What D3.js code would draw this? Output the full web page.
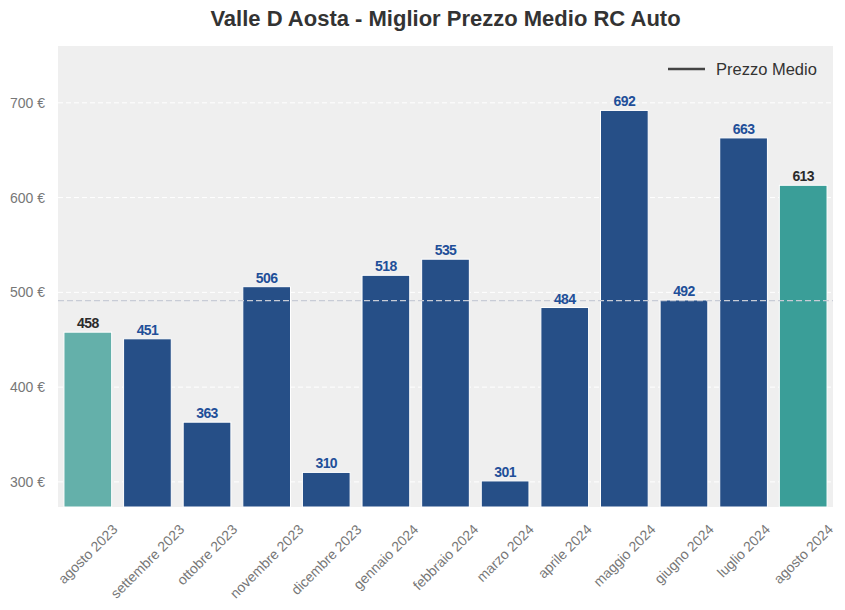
<!DOCTYPE html>
<html>
<head>
<meta charset="utf-8">
<script src="https://cdn.jsdelivr.net/npm/d3@7"></script>
<style>
  body { margin: 0; background: #fff; font-family: "Liberation Sans", Arial, sans-serif; }
</style>
</head>
<body>
<script>
// data
var months = ["agosto 2023", "settembre 2023", "ottobre 2023", "novembre 2023", "dicembre 2023",
  "gennaio 2024", "febbraio 2024", "marzo 2024", "aprile 2024", "maggio 2024",
  "giugno 2024", "luglio 2024", "agosto 2024"];
var prices = [458, 451, 363, 506, 310, 518, 535, 301, 484, 692, 492, 663, 613];
var yTicks = [300, 400, 500, 600, 700];
var yDomain = [273.5, 760];

var w = 845, h = 610;
var margin = {top: 46, right: 12, bottom: 103, left: 58};

var svg = d3.select("body").append("svg")
  .attr("width", w)
  .attr("height", h);

var x = d3.scaleBand()
  .domain(months)
  .range([margin.left, w - margin.right])
  .paddingInner(0.2)
  .paddingOuter(0.1);

var y = d3.scaleLinear()
  .domain(yDomain)
  .range([h - margin.bottom, margin.top]);

// plot background
svg.append("rect")
  .attr("x", margin.left)
  .attr("y", margin.top)
  .attr("width", w - margin.left - margin.right)
  .attr("height", h - margin.top - margin.bottom)
  .attr("fill", "#efefef");

// grid lines
svg.selectAll(".grid")
  .data(yTicks)
  .enter()
  .append("line")
  .attr("x1", margin.left)
  .attr("x2", w - margin.right)
  .attr("y1", function(d) { return y(d); })
  .attr("y2", function(d) { return y(d); })
  .attr("stroke", "#fff")
  .attr("stroke-width", 1)
  .attr("stroke-dasharray", "5,3");

// y axis labels
svg.selectAll(".ylab")
  .data(yTicks)
  .enter()
  .append("text")
  .attr("x", margin.left - 13)
  .attr("y", function(d) { return y(d); })
  .attr("dy", "0.35em")
  .attr("text-anchor", "end")
  .attr("fill", "#777")
  .style("font-size", "14px")
  .text(function(d) { return d + " €"; });

// bar colours: first and last month teal, others blue
function barColor(d, i) {
  if (i === 0) return "#64b0aa";
  if (i === prices.length - 1) return "#3a9e98";
  return "#264f87";
}

svg.selectAll(".bar")
  .data(prices)
  .enter()
  .append("rect")
  .attr("x", function(d, i) { return x(months[i]); })
  .attr("y", function(d) { return y(d); })
  .attr("width", x.bandwidth())
  .attr("height", function(d) { return y(yDomain[0]) - y(d); })
  .attr("fill", barColor)
  .attr("stroke", "#fff")
  .attr("stroke-width", 1);

// average line
var avg = d3.mean(prices);
svg.append("line")
  .attr("x1", margin.left)
  .attr("x2", w - margin.right)
  .attr("y1", y(avg))
  .attr("y2", y(avg))
  .attr("stroke", "#c8ccd6")
  .attr("stroke-width", 1.2)
  .attr("stroke-dasharray", "6,3");

// value labels
svg.selectAll(".val")
  .data(prices)
  .enter()
  .append("text")
  .attr("x", function(d, i) { return x(months[i]) + x.bandwidth() / 2; })
  .attr("y", function(d) { return y(d) - 4; })
  .attr("text-anchor", "middle")
  .attr("fill", function(d, i) {
    return (i === 0 || i === prices.length - 1) ? "#2b2b2b" : "#1f4f99";
  })
  .style("font-size", "14px")
  .style("font-weight", "bold")
  .style("letter-spacing", "-0.6px")
  .text(function(d) { return d; });

// x axis labels, rotated 45deg around their centre, top edge aligned under the axis
svg.selectAll(".xlab")
  .data(months)
  .enter()
  .append("text")
  .attr("text-anchor", "middle")
  .attr("dy", "0.35em")
  .attr("fill", "#777")
  .style("font-size", "14px")
  .text(function(d) { return d; })
  .attr("transform", function(d) {
    var len = this.getComputedTextLength();
    var cx = x(d) + x.bandwidth() / 2;
    var cy = h - margin.bottom + 16 + (len + 11) * 0.3536;
    return "translate(" + cx + "," + cy + ") rotate(-45)";
  });

// title
svg.append("text")
  .attr("x", (margin.left + w - margin.right) / 2)
  .attr("y", 26)
  .attr("text-anchor", "middle")
  .attr("fill", "#333")
  .style("font-size", "22px")
  .style("font-weight", "bold")
  .text("Valle D Aosta - Miglior Prezzo Medio RC Auto");

// legend
svg.append("line")
  .attr("x1", 668)
  .attr("x2", 705)
  .attr("y1", 69)
  .attr("y2", 69)
  .attr("stroke", "#444")
  .attr("stroke-width", 2.5);
svg.append("text")
  .attr("x", 716)
  .attr("y", 69)
  .attr("dy", "0.35em")
  .attr("fill", "#333")
  .style("font-size", "16.5px")
  .text("Prezzo Medio");
</script>
</body>
</html>
